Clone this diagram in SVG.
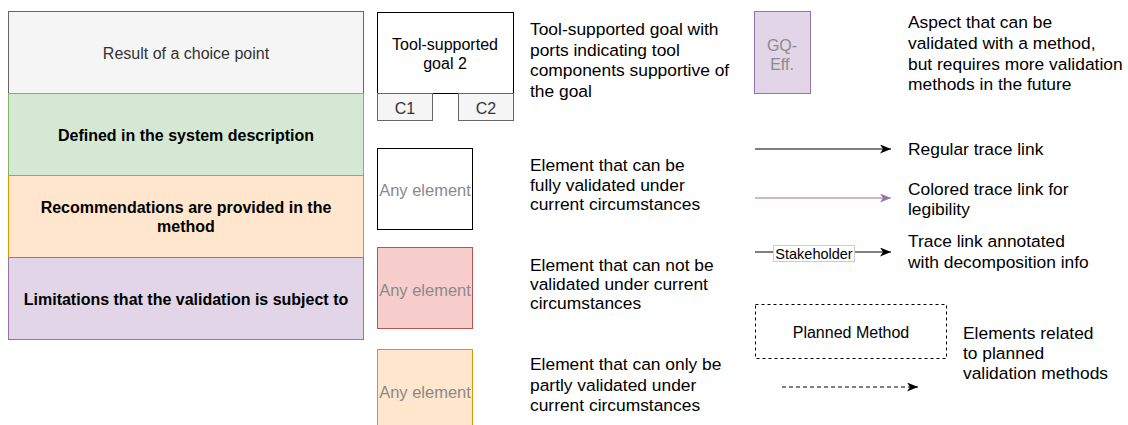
<svg xmlns="http://www.w3.org/2000/svg" width="1128" height="425" viewBox="0 0 1128 425">
  <style>
    text { font-family: "Liberation Sans", Arial, Helvetica, sans-serif; }
    .lbl { font-size: 16px; fill: #333333; text-anchor: middle; dominant-baseline: central; }
    .bold { font-size: 16px; font-weight: bold; fill: #000000; text-anchor: middle; dominant-baseline: central; }
    .desc { font-size: 17.4px; fill: #000000; dominant-baseline: central; }
    .any { font-size: 16.5px; fill: #8a8a8a; text-anchor: middle; dominant-baseline: central; }
    .gray { fill: #f5f5f5; stroke: #666666; }
    .green { fill: #d5e8d4; stroke: #82b366; }
    .orange { fill: #ffe6cc; stroke: #d79b00; }
    .purple { fill: #e1d5e7; stroke: #9673a6; }
    .red { fill: #f8cecc; stroke: #b85450; }
    .plain { fill: #ffffff; stroke: #000000; }
    .link { fill: none; stroke: #000000; stroke-width: 1.2; }
  </style>
  <defs>
    <marker id="arrowBlack" markerWidth="12" markerHeight="10" refX="11" refY="4.5" orient="auto" markerUnits="userSpaceOnUse">
      <path d="M0,0 L11,4.5 L0,9 L3,4.5 z" fill="#000000"/>
    </marker>
    <marker id="arrowPurple" markerWidth="12" markerHeight="10" refX="11" refY="4.5" orient="auto" markerUnits="userSpaceOnUse">
      <path d="M0,0 L11,4.5 L0,9 L3,4.5 z" fill="#9673a6"/>
    </marker>
  </defs>

  <!-- Category swatches (left column) -->
  <g id="swatch-choice">
    <rect class="gray" x="8.5" y="11.5" width="355" height="82"/>
    <text class="lbl" x="186" y="53">Result of a choice point</text>
  </g>
  <g id="swatch-system">
    <rect class="green" x="8.5" y="93.5" width="355" height="82"/>
    <text class="bold" x="186" y="135">Defined in the system description</text>
  </g>
  <g id="swatch-recommend">
    <rect class="orange" x="8.5" y="175.5" width="355" height="82"/>
    <text class="bold" x="186" y="207">Recommendations are provided in the</text>
    <text class="bold" x="186" y="226">method</text>
  </g>
  <g id="swatch-limits">
    <rect class="purple" x="8.5" y="257.5" width="355" height="82"/>
    <text class="bold" x="186" y="299">Limitations that the validation is subject to</text>
  </g>

  <!-- Tool-supported goal with ports -->
  <g id="tool-goal">
    <rect class="plain" x="377.5" y="12.5" width="136" height="81"/>
    <text class="lbl" x="445" y="44" style="fill:#000">Tool-supported</text>
    <text class="lbl" x="445" y="63" style="fill:#000">goal 2</text>
    <rect class="gray" x="377.5" y="93.5" width="55" height="27"/>
    <text class="lbl" x="405" y="108">C1</text>
    <rect class="gray" x="458.5" y="93.5" width="55" height="27"/>
    <text class="lbl" x="486" y="108">C2</text>
    <text class="desc" x="530" y="29">Tool-supported goal with</text>
    <text class="desc" x="530" y="49.5">ports indicating tool</text>
    <text class="desc" x="530" y="70">components supportive of</text>
    <text class="desc" x="530" y="90.5">the goal</text>
  </g>

  <!-- Validation state elements -->
  <g id="elem-full">
    <rect class="plain" x="377.5" y="148.5" width="95" height="81"/>
    <text class="any" x="425" y="190">Any element</text>
    <text class="desc" x="530" y="164.5">Element that can be</text>
    <text class="desc" x="530" y="184.5">fully validated under</text>
    <text class="desc" x="530" y="204">current circumstances</text>
  </g>
  <g id="elem-none">
    <rect class="red" x="377.5" y="247.5" width="95" height="81"/>
    <text class="any" x="425" y="290">Any element</text>
    <text class="desc" x="530" y="264.5">Element that can not be</text>
    <text class="desc" x="530" y="284">validated under current</text>
    <text class="desc" x="530" y="303">circumstances</text>
  </g>
  <g id="elem-partial">
    <rect class="orange" x="377.5" y="349.5" width="95" height="81"/>
    <text class="any" x="425" y="392">Any element</text>
    <text class="desc" x="530" y="364">Element that can only be</text>
    <text class="desc" x="530" y="385">partly validated under</text>
    <text class="desc" x="530" y="405">current circumstances</text>
  </g>

  <!-- Aspect needing further validation -->
  <g id="aspect">
    <rect class="purple" x="754.5" y="11.5" width="56" height="82"/>
    <text class="any" x="782" y="45" style="font-size:16px">GQ-</text>
    <text class="any" x="782" y="64" style="font-size:16px">Eff.</text>
    <text class="desc" x="908" y="22">Aspect that can be</text>
    <text class="desc" x="908" y="43">validated with a method,</text>
    <text class="desc" x="908" y="63.5">but requires more validation</text>
    <text class="desc" x="908" y="84">methods in the future</text>
  </g>

  <!-- Trace link legend -->
  <g id="connectors">
    <line class="link" x1="755" y1="149" x2="891" y2="149" marker-end="url(#arrowBlack)"/>
    <line class="link" x1="755" y1="198" x2="891" y2="198" style="stroke:#9673a6" marker-end="url(#arrowPurple)"/>
    <line class="link" x1="755" y1="252" x2="891" y2="252" marker-end="url(#arrowBlack)"/>
    <line class="link" x1="782" y1="387" x2="918" y2="387" stroke-dasharray="4,3" marker-end="url(#arrowBlack)"/>
  </g>
  <g id="link-regular">
    <text class="desc" x="908" y="148.5">Regular trace link</text>
  </g>
  <g id="link-colored">
    <text class="desc" x="908" y="188.5">Colored trace link for</text>
    <text class="desc" x="908" y="208.5">legibility</text>
  </g>
  <g id="link-annotated">
    <rect x="773.5" y="245.5" width="81" height="16" fill="#ffffff" stroke="#cccccc"/>
    <text x="814" y="253.5" style="font-size:14.5px; fill:#000; text-anchor:middle; dominant-baseline:central">Stakeholder</text>
    <text class="desc" x="908" y="241">Trace link annotated</text>
    <text class="desc" x="908" y="262">with decomposition info</text>
  </g>

  <!-- Planned validation methods -->
  <g id="planned">
    <rect x="755.5" y="304.5" width="191" height="54" fill="#ffffff" stroke="#000000" stroke-dasharray="3,3"/>
    <text class="lbl" x="851" y="332" style="fill:#000">Planned Method</text>
    <text class="desc" x="963" y="332.5">Elements related</text>
    <text class="desc" x="963" y="353">to planned</text>
    <text class="desc" x="963" y="373">validation methods</text>
  </g>
</svg>
